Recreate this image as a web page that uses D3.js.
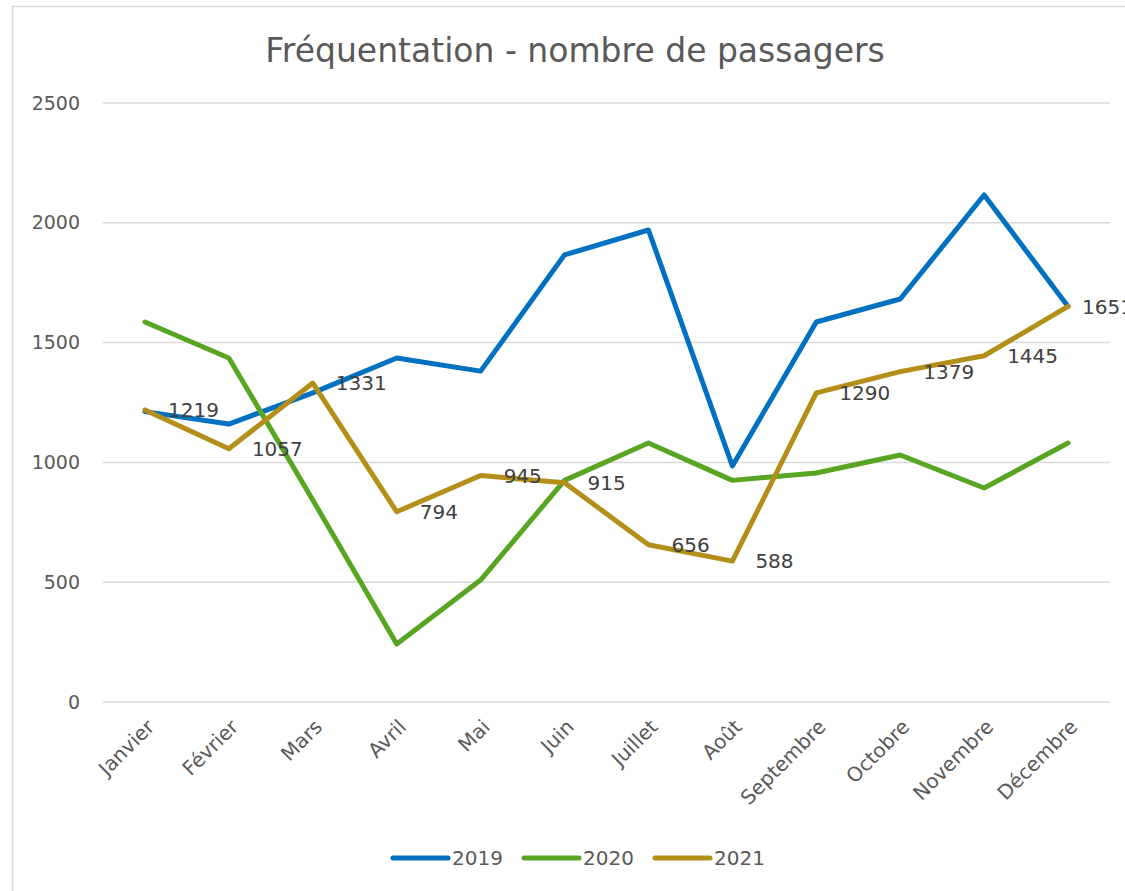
<!DOCTYPE html>
<html>
<head>
<meta charset="utf-8">
<script src="https://cdn.jsdelivr.net/npm/d3@7"></script>
<style>
  body { margin: 0; background: #fff; }
  svg { font-family: "DejaVu Sans", sans-serif; }
</style>
</head>
<body>
<svg id="chart" width="1125" height="891"></svg>
<script>
// data
const months = ["Janvier", "Février", "Mars", "Avril", "Mai", "Juin", "Juillet",
  "Août", "Septembre", "Octobre", "Novembre", "Décembre"];
const years = ["2019", "2020", "2021"];
const values2019 = [1212, 1160, 1290, 1436, 1381, 1866, 1970, 985, 1586, 1682, 2116, 1651];
const values2020 = [1586, 1436, 843, 242, 509, 925, 1081, 925, 956, 1031, 893, 1081];
const values2021 = [1219, 1057, 1331, 794, 945, 915, 656, 588, 1290, 1379, 1445, 1651];
const yTicks = [0, 500, 1000, 1500, 2000, 2500];

const colors = { "2019": "#0070c0", "2020": "#58a523", "2021": "#b38f1a" };
const series = [
  { name: "2019", values: values2019, labels: false },
  { name: "2020", values: values2020, labels: false },
  { name: "2021", values: values2021, labels: true }
];

(function(){
  const MARGIN = { top: 103, right: 15, bottom: 189, left: 103 };
  const width = 1110 - MARGIN.left;
  const height = 702 - MARGIN.top;
  const svg = d3.select("#chart");

  // outer frame (partly cut off)
  svg.append("path")
    .attr("d", "M12.5,891 L12.5,6.5 L1125,6.5")
    .attr("fill", "none")
    .attr("stroke", "#d9d9d9")
    .attr("stroke-width", 1.5);

  // title
  svg.append("text")
    .attr("x", 575).attr("y", 62)
    .attr("text-anchor", "middle")
    .attr("fill", "#595959")
    .style("font-size", "33px")
    .text("Fréquentation - nombre de passagers");

  const g = svg.append("g")
    .attr("transform", "translate(" + MARGIN.left + "," + MARGIN.top + ")");

  const x = d3.scalePoint().domain(months).range([0, width]).padding(0.5);
  const y = d3.scaleLinear().domain([0, 2500]).range([height, 0]);

  // gridlines
  g.append("g").selectAll("line")
    .data(yTicks)
    .enter().append("line")
      .attr("x1", 0).attr("x2", width)
      .attr("y1", d => y(d)).attr("y2", d => y(d))
      .attr("stroke", "#d9d9d9")
      .attr("stroke-width", 1.5);

  // y axis
  const yAxis = g.append("g")
    .call(d3.axisLeft(y).tickValues(yTicks).tickFormat(d3.format("d")).tickSize(0).tickPadding(23));
  yAxis.select(".domain").remove();
  yAxis.selectAll("text")
    .attr("fill", "#595959")
    .style("font-size", "19px")
    .style("font-family", "DejaVu Sans, sans-serif");

  // x axis
  const xAxis = g.append("g")
    .attr("transform", "translate(0," + height + ")")
    .call(d3.axisBottom(x).tickSize(0));
  xAxis.select(".domain").remove();
  xAxis.selectAll("text")
    .attr("fill", "#595959")
    .style("font-size", "20px")
    .style("font-family", "DejaVu Sans, sans-serif")
    .attr("text-anchor", "end")
    .attr("dy", "0")
    .attr("transform", "translate(8,24) rotate(-45)");

  // lines
  const line = d3.line()
    .x((d, i) => x(months[i]))
    .y(d => y(d));

  g.selectAll(".series")
    .data(series)
    .enter().append("path")
      .attr("class", "series")
      .attr("fill", "none")
      .attr("stroke", d => colors[d.name])
      .attr("stroke-width", 5)
      .attr("stroke-linejoin", "round")
      .attr("stroke-linecap", "round")
      .attr("d", d => line(d.values));

  // data labels (2021 only)
  series.filter(s => s.labels).forEach(function(s){
    g.selectAll(".lbl" + s.name)
      .data(s.values)
      .enter().append("text")
        .attr("x", (d, i) => x(months[i]) + (i === months.length - 1 ? 14 : 23))
        .attr("y", d => y(d))
        .attr("dy", "0.36em")
        .attr("fill", "#404040")
        .style("font-size", "20px")
        .text(d => d);
  });

  // legend
  const legend = svg.append("g").attr("transform", "translate(393,858)");
  const item = legend.selectAll("g")
    .data(years)
    .enter().append("g")
      .attr("transform", (d, i) => "translate(" + (i * 131) + ",0)");
  item.append("line")
    .attr("x1", 0).attr("x2", 55)
    .attr("stroke", d => colors[d])
    .attr("stroke-width", 5)
    .attr("stroke-linecap", "round");
  item.append("text")
    .attr("x", 59).attr("dy", "0.36em")
    .attr("fill", "#595959")
    .style("font-size", "20px")
    .text(d => d);
})();
</script>
</body>
</html>
